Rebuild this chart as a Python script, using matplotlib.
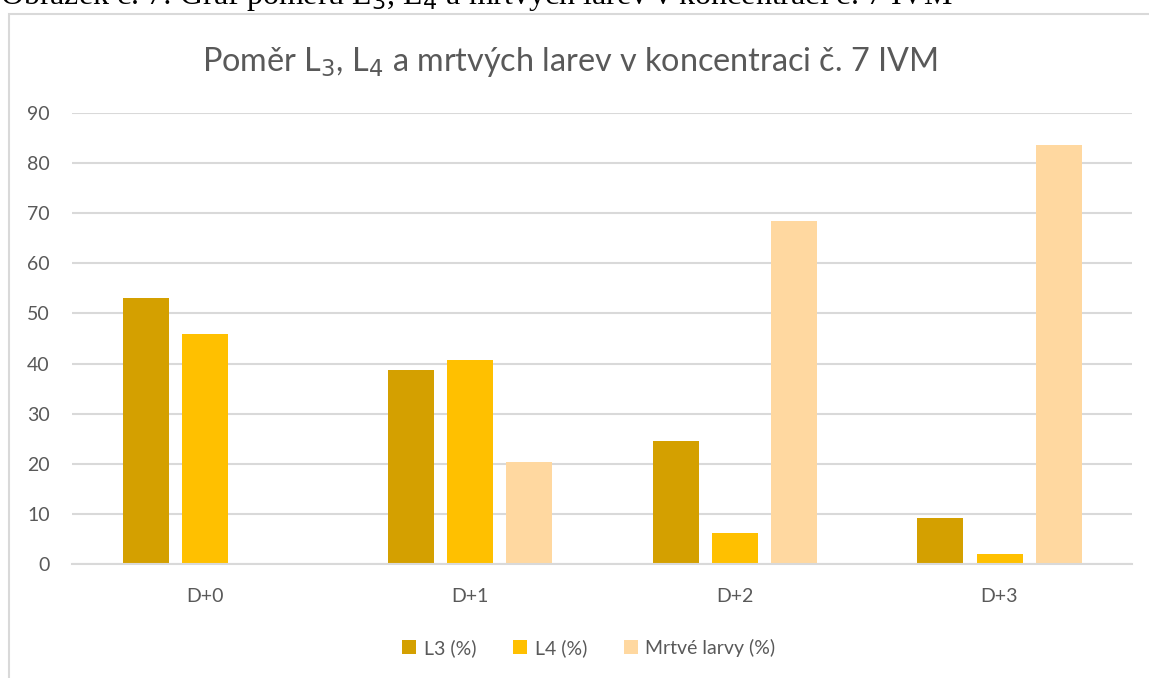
import numpy as np
import matplotlib
matplotlib.use("Agg")
import matplotlib.pyplot as plt
from matplotlib.patches import Rectangle

plt.rcParams['font.family'] = ['Lato', 'DejaVu Sans']

categories = ["D+0", "D+1", "D+2", "D+3"]
series_names = ["L3 (%)", "L4 (%)", "Mrtvé larvy (%)"]
l3_values = [53.1, 38.7, 24.5, 9.2]
l4_values = [45.9, 40.7, 6.2, 2.0]
dead_values = [0.0, 20.4, 68.5, 83.6]
y_ticks = [0, 10, 20, 30, 40, 50, 60, 70, 80, 90]

colors = ["#D4A000", "#FFC000", "#FFD8A0"]
text_color = "#595959"
grid_color = "#D9D9D9"

W, H = 1149, 678
fig = plt.figure(figsize=(W / 100, H / 100), dpi=100)
fig.patch.set_facecolor("white")

# caption above the chart frame (partly cut by the top edge)
fig.text(0.0, 1 - 4 / H, "Obrázek č. 7: Graf poměru L$_3$, L$_4$ a mrtvých larev v koncentraci č. 7 IVM",
         family="Liberation Serif", fontsize=23, color="black", ha="left", va="baseline")

# chart frame
fig.patches.append(Rectangle((9 / W, -0.1), 1.2, 1 - 14 / H + 0.1, transform=fig.transFigure,
                             fill=False, edgecolor=grid_color, linewidth=1.5))

ax = fig.add_axes([72 / W, 1 - 564 / H, (1132 - 72) / W, (564 - 113) / H])
x = np.arange(len(categories))
width = 46 / 265
step = 59 / 265
for i, (vals, name, col) in enumerate(zip([l3_values, l4_values, dead_values], series_names, colors)):
    ax.bar(x + (i - 1) * step, vals, width=width, color=col, label=name, zorder=3)

ax.set_xlim(-0.5, len(categories) - 0.5)
ax.set_ylim(0, 90)
ax.set_yticks(y_ticks)
ax.set_xticks(x)
ax.set_xticklabels(categories)
ax.yaxis.grid(True, color=grid_color, linewidth=1.5, zorder=0)
ax.set_axisbelow(True)
for s in ["top", "right", "left"]:
    ax.spines[s].set_visible(False)
ax.spines["bottom"].set_color(grid_color)
ax.spines["bottom"].set_linewidth(1.5)
ax.spines["bottom"].set_zorder(4)
ax.tick_params(axis="both", length=0, colors=text_color, labelsize=14)
ax.tick_params(axis="y", pad=16)
ax.tick_params(axis="x", pad=17)

fig.text(570 / W, 1 - 62 / H, "Poměr L$_3$, L$_4$ a mrtvých larev v koncentraci č. 7 IVM",
         fontsize=23.3, color=text_color, ha="center", va="center")

leg = fig.legend(loc="center", bbox_to_anchor=(589 / W, 1 - 648 / H), ncol=3, frameon=False,
                 fontsize=14, handlelength=0.7, handleheight=0.7, handletextpad=0.4,
                 columnspacing=1.9, labelcolor=text_color)

fig.savefig("out.png", dpi=100, facecolor="white")
